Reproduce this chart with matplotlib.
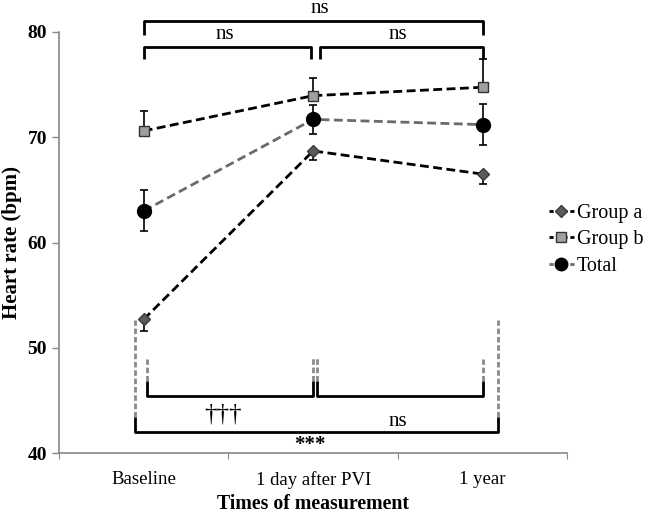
import matplotlib
matplotlib.use("Agg")
import matplotlib.pyplot as plt
from matplotlib.lines import Line2D

categories = ["Baseline", "1 day after PVI", "1 year"]
group_a = [52.7, 68.7, 66.5]
group_a_err = [1.1, 0.9, 0.9]
group_b = [70.6, 73.95, 74.75]
group_b_err = [1.9, 1.65, 2.65]
total = [63.0, 71.7, 71.2]
total_err = [1.95, 1.35, 1.95]
yticks = [40, 50, 60, 70, 80]

plt.rcParams['font.family'] = ['Liberation Serif', 'DejaVu Serif']

fig = plt.figure(figsize=(6.46, 5.16), dpi=100)
ax = fig.add_axes([0.0913, 0.122, 0.787, 0.816])
x = list(range(len(categories)))

ax.errorbar(x, group_b, yerr=[[0]*3, group_b_err], fmt='none', ecolor='black',
            elinewidth=1.2, capsize=3, capthick=1.2, zorder=3)
ax.errorbar(x, group_a, yerr=[group_a_err, [0]*3], fmt='none', ecolor='black',
            elinewidth=1.2, capsize=3, capthick=1.2, zorder=3)
ax.errorbar(x, total, yerr=total_err, fmt='none', ecolor='black',
            elinewidth=1.2, capsize=3, capthick=1.2, zorder=3)

ax.plot(x, group_a, linestyle=(0, (3.2, 1.6)), color='black', lw=2,
        marker='D', ms=6.5, mfc='#5a5a5a', mec='#3a3a3a', mew=1, zorder=4)
ax.plot(x, group_b, linestyle=(0, (3.2, 1.6)), color='black', lw=2,
        marker='s', ms=7, mfc='#a0a0a0', mec='#333333', mew=1, zorder=4)
ax.plot(x, total, linestyle=(0, (3.2, 1.6)), color='#6a6a6a', lw=2,
        marker='o', ms=10, mfc='black', mec='black', zorder=5)

ax.set_xlim(-0.5, 2.5)
ax.set_ylim(40, 80)
ax.set_yticks(yticks)
ax.set_yticklabels([str(v) for v in yticks], fontsize=14, fontweight='bold')
ax.set_xticks([-0.5, 0.5, 1.5, 2.5])
ax.set_xticklabels([])
ax.set_xticks(x, minor=True)
ax.set_xticklabels(categories, minor=True, fontsize=13.5)
ax.tick_params(axis='x', which='minor', length=0, pad=13)
ax.tick_params(axis='x', which='major', length=4, color='#888888', direction='out')
ax.tick_params(axis='y', length=5, color='#888888', direction='out', width=1)
for s in ['top', 'right']:
    ax.spines[s].set_visible(False)
for s in ['left', 'bottom']:
    ax.spines[s].set_color('#888888')
    ax.spines[s].set_linewidth(1.2)

ax.set_ylabel('Heart rate (bpm)', fontsize=15, fontweight='bold', va='center')
ax.yaxis.set_label_coords(-0.092, 0.5)
ax.set_xlabel('Times of measurement', fontsize=14.3, fontweight='bold', va='center')
ax.xaxis.set_label_coords(0.5, -0.12)

kw = dict(color='black', lw=2, clip_on=False, zorder=2, solid_capstyle='butt')
gkw = dict(color='#8a8a8a', lw=2, linestyle=(0, (2, 1)), clip_on=False, zorder=1)

# top brackets
ax.plot([0, 0, 2, 2], [79.7, 81.0, 81.0, 79.7], **kw)
ax.plot([0, 0, 0.99, 0.99], [77.4, 78.6, 78.6, 77.4], **kw)
ax.plot([1.04, 1.04, 2.0, 2.0], [77.4, 78.6, 78.6, 77.4], **kw)
ax.text(1.04, 82.2, 'ns', ha='center', va='center', fontsize=15, clip_on=False)
ax.text(0.48, 79.75, 'ns', ha='center', va='center', fontsize=15, clip_on=False)
ax.text(1.50, 79.75, 'ns', ha='center', va='center', fontsize=15, clip_on=False)

# bottom brackets
ax.plot([0.02, 0.02, 1.0, 1.0], [46.8, 45.45, 45.45, 46.8], **kw)
ax.plot([1.025, 1.025, 2.004, 2.004], [46.8, 45.45, 45.45, 46.8], **kw)
ax.plot([-0.054, -0.054, 2.09, 2.09], [43.4, 42.0, 42.0, 43.4], **kw)
ax.plot([0.02, 0.02], [46.8, 48.9], **gkw)
ax.plot([1.0, 1.0], [46.8, 49.1], **gkw)
ax.plot([1.025, 1.025], [46.8, 49.1], **gkw)
ax.plot([2.004, 2.004], [46.8, 48.9], **gkw)
ax.plot([-0.054, -0.054], [43.4, 52.6], **gkw)
ax.plot([2.09, 2.09], [43.4, 52.6], **gkw)
ax.text(0.47, 43.7, '†††', ha='center', va='center', fontsize=18)
ax.text(1.50, 43.0, 'ns', ha='center', va='center', fontsize=15)
ax.text(0.98, 40.8, '***', ha='center', va='center', fontsize=15, fontweight='bold')

handles = [Line2D([], [], linestyle=(0, (1.5, 1)), color='black', lw=2, marker='D', ms=6.5,
                  mfc='#5a5a5a', mec='#3a3a3a'),
           Line2D([], [], linestyle=(0, (1.5, 1)), color='black', lw=2, marker='s', ms=7,
                  mfc='#a0a0a0', mec='#333333'),
           Line2D([], [], linestyle=(0, (1.5, 1)), color='#6a6a6a', lw=2, marker='o', ms=9,
                  mfc='black', mec='black')]
fig.legend(handles, ['Group a', 'Group b', 'Total'], loc='center left',
           bbox_to_anchor=(0.837, 0.535), frameon=False, fontsize=14.5,
           handlelength=1.25, handletextpad=0.15, labelspacing=0.35,
           borderaxespad=0, borderpad=0.4)

fig.savefig('out.png', dpi=100)
